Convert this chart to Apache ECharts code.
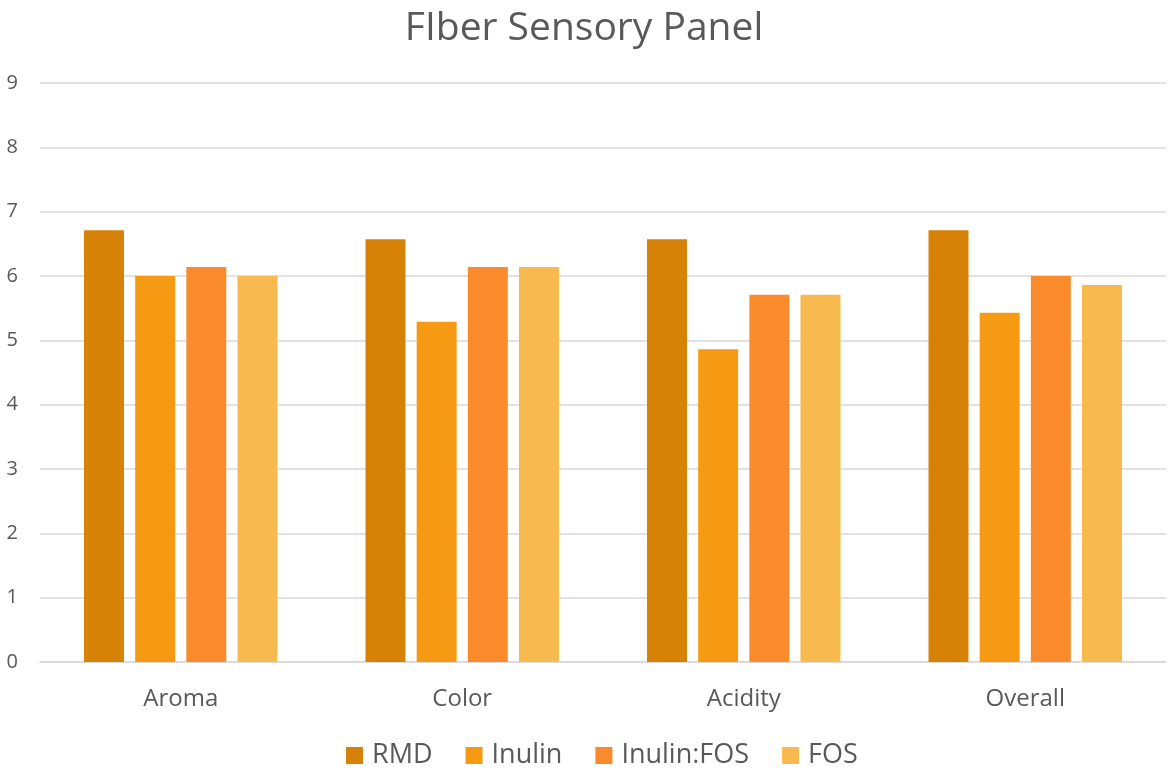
<!DOCTYPE html>
<html>
<head>
<meta charset="utf-8">
<script src="https://cdn.jsdelivr.net/npm/echarts@6/dist/echarts.min.js"></script>
<style>
  html, body { margin: 0; padding: 0; background: #fff; }
  #chart { width: 1168px; height: 771px; }
</style>
</head>
<body>
<div id="chart"></div>
<script>
// Sensory attributes scored on a 9-point scale
const categories = ['Aroma', 'Color', 'Acidity', 'Overall'];
const rmd       = [6.71, 6.57, 6.57, 6.71];
const inulin    = [6.00, 5.29, 4.86, 5.43];
const inulinFos = [6.14, 6.14, 5.71, 6.00];
const fos       = [6.00, 6.14, 5.71, 5.86];
const seriesNames = ['RMD', 'Inulin', 'Inulin:FOS', 'FOS'];
const colors = ['#D68206', '#F79A13', '#F98B2C', '#F8BA4E'];

const font = '"Open Sans", sans-serif';
const textColor = '#595959';

const chart = echarts.init(document.getElementById('chart'));
const dataSets = [rmd, inulin, inulinFos, fos];

chart.setOption({
  animation: false,
  color: colors,
  title: {
    text: 'FIber Sensory Panel',
    left: 'center',
    top: 4,
    textStyle: { fontFamily: font, fontSize: 39, fontWeight: 'normal', color: textColor }
  },
  legend: {
    bottom: -3,
    left: 341,
    itemWidth: 17,
    itemHeight: 17,
    itemGap: 33,
    icon: 'rect',
    textStyle: { fontFamily: font, fontSize: 27, color: textColor, padding: [0, 0, 0, 4] }
  },
  grid: { left: 40, right: 2, top: 83, bottom: 109 },
  xAxis: {
    type: 'category',
    data: categories,
    axisTick: { show: false },
    axisLine: { lineStyle: { color: '#D9D9D9', width: 1.5 } },
    axisLabel: { fontFamily: font, fontSize: 24, color: textColor, margin: 25 }
  },
  yAxis: {
    type: 'value',
    min: 0,
    max: 9,
    interval: 1,
    axisLine: { show: false },
    axisTick: { show: false },
    splitLine: { lineStyle: { color: '#D9D9D9', width: 1.5 } },
    axisLabel: { fontFamily: font, fontSize: 20, color: textColor, margin: 22 }
  },
  series: seriesNames.map((name, i) => ({
    name,
    type: 'bar',
    data: dataSets[i],
    barWidth: '14.2%',
    barGap: '28%'
  }))
});
</script>
</body>
</html>
